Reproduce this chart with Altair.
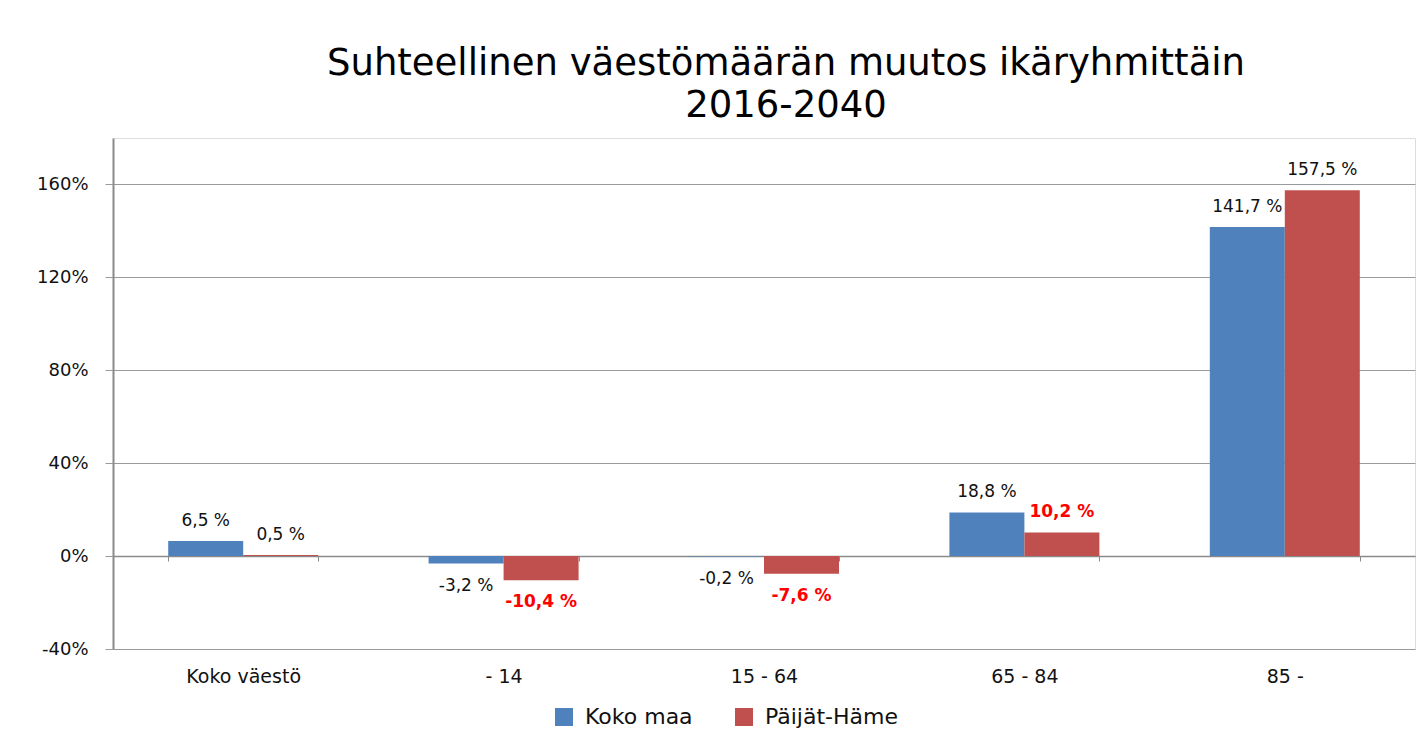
import altair as alt
import pandas as pd

categories = ["Koko väestö", "- 14", "15 - 64", "65 - 84", "85 -"]
series = ["Koko maa", "Päijät-Häme"]
koko_maa = [6.5, -3.2, -0.2, 18.8, 141.7]
paijat_hame = [0.5, -10.4, -7.6, 10.2, 157.5]
# which value labels are shown emphasised in the original
koko_maa_emph = [False, False, False, False, False]
paijat_hame_emph = [False, True, True, True, False]
y_ticks = [-40, 0, 40, 80, 120, 160]

rows = []
for s, vals, emph in [(series[0], koko_maa, koko_maa_emph), (series[1], paijat_hame, paijat_hame_emph)]:
    for c, v, e in zip(categories, vals, emph):
        rows.append({"ryhma": c, "sarja": s, "arvo": v, "emph": e,
                     "label": f"{v:.1f} %".replace(".", ",")})
df = pd.DataFrame(rows)

FONT = "DejaVu Sans"

x_enc = alt.X("ryhma:N", sort=categories, title=None,
              scale=alt.Scale(paddingInner=0.424, paddingOuter=0.212),
              axis=alt.Axis(offset=-93, domain=True, domainColor="#8a8a8a", domainWidth=1.5,
                            ticks=True, tickBand="extent", tickSize=5, tickColor="#8a8a8a",
                            labelPadding=106, labelFont=FONT, labelFontSize=19,
                            labelColor="#111111", labelAngle=0, grid=False))
y_enc = alt.Y("arvo:Q", title=None,
              scale=alt.Scale(domain=[-40, 180], nice=False, zero=False),
              axis=alt.Axis(values=y_ticks, labelExpr="datum.value + '%'", grid=True,
                            gridColor="#9a9a9a", gridWidth=1, domain=True, domainColor="#8a8a8a",
                            domainWidth=2, ticks=True, tickSize=8, tickColor="#9a9a9a",
                            labelPadding=17, labelFont=FONT, labelFontSize=18,
                            labelColor="#111111"))
color_enc = alt.Color("sarja:N", sort=series, title=None,
                      scale=alt.Scale(domain=series, range=["#4F81BD", "#C0504D"]),
                      legend=alt.Legend(orient="none", legendX=440, legendY=568,
                                        direction="horizontal", symbolType="square",
                                        symbolSize=324, symbolStrokeWidth=0,
                                        labelFont=FONT, labelFontSize=22, labelColor="#111111",
                                        labelOffset=10, columnPadding=40))

base = alt.Chart(df)

bars = base.mark_bar().encode(
    x=x_enc,
    xOffset=alt.XOffset("sarja:N", sort=series),
    y=y_enc,
    color=color_enc,
)


def text_layer(cond, dy, emph):
    style = dict(font=FONT, fontSize=17, baseline="middle", align="center", dy=dy)
    if emph:
        style.update(fontWeight="bold", color="#FF0000")
    else:
        style.update(color="#111111")
    flt = cond + (" && datum.emph" if emph else " && !datum.emph")
    return base.transform_filter(flt).mark_text(**style).encode(
        x=alt.X("ryhma:N", sort=categories),
        xOffset=alt.XOffset("sarja:N", sort=series),
        y=alt.Y("arvo:Q"),
        text="label:N",
    )


layers = [bars,
          text_layer("datum.arvo >= 0", -20, False),
          text_layer("datum.arvo >= 0", -20, True),
          text_layer("datum.arvo < 0", 22, False),
          text_layer("datum.arvo < 0", 22, True)]

chart = alt.layer(*layers).properties(
    width=1302,
    height=511,
    title=alt.Title(["Suhteellinen väestömäärän muutos ikäryhmittäin", "2016-2040"],
                    font="DejaVu Sans", fontSize=37, fontWeight="normal", color="#000000",
                    lineHeight=42, anchor="middle", dx=22, offset=13),
    autosize=alt.AutoSizeParams(type="none"),
    padding={"left": 105, "top": 130, "right": 4, "bottom": 90},
).configure_view(stroke=None).configure(background="white")

chart.save("out.html", embed_options={"renderer": "svg", "actions": False})
